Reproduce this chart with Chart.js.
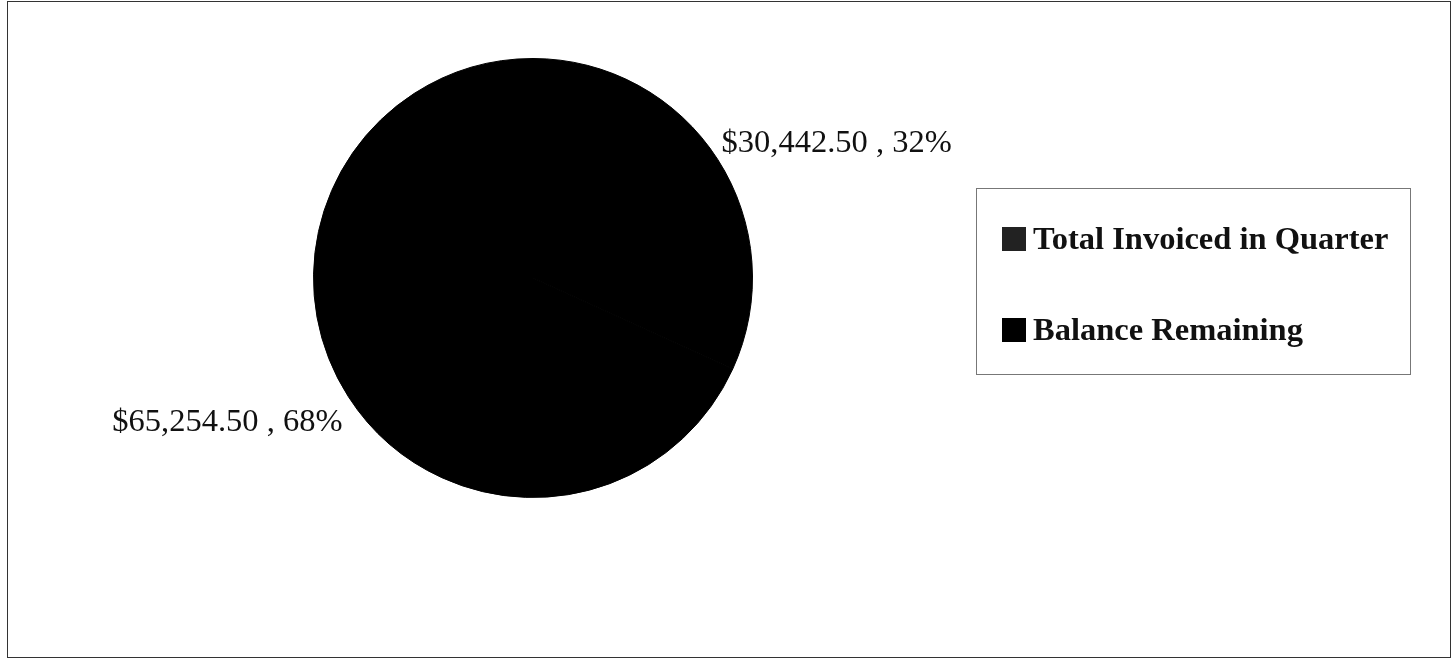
<!DOCTYPE html>
<html lang="en">
<head>
    <meta charset="UTF-8">
    <title>Invoiced vs Balance</title>
    <script src="https://cdn.jsdelivr.net/npm/chart.js"></script>
    <style>
        body { margin: 0; background: #fff; }
        #wrap { position: relative; width: 1452px; height: 660px; }
        #frame { position: absolute; left: 7px; top: 1px; width: 1442px; height: 655px; border: 1px solid #333; }
        #legend {
            position: absolute; left: 976px; top: 188px; width: 435px; height: 187px;
            border: 1px solid #777; box-sizing: border-box;
            font-family: "Liberation Serif", serif; font-weight: bold; font-size: 32.5px; color: #111;
        }
        .item { position: absolute; left: 25px; display: flex; align-items: center; white-space: nowrap; }
        .box { width: 24px; height: 24px; margin-right: 7px; }
    </style>
</head>
<body>
    <div id="wrap">
        <div id="frame"></div>
        <canvas id="pie" width="1452" height="660" style="position:absolute;left:0;top:0"></canvas>
        <div id="legend"></div>
    </div>

    <script>
        // values
        const categories = ['Total Invoiced in Quarter', 'Balance Remaining'];
        const amounts = [30442.50, 65254.50];
        const valueLabels = ['$30,442.50', '$65,254.50'];
        const percentLabels = ['32%', '68%'];
        const sliceColors = ['#000000', '#000000'];

        // legend as html
        const legend = document.getElementById('legend');
        const rowTops = [31, 122];
        categories.forEach(function(name, i) {
            legend.insertAdjacentHTML('beforeend',
                `<div class="item" style="top:${rowTops[i]}px"><span class="box" style="background:${i == 0 ? '#222' : '#000'}"></span>${name}</div>`);
        });

        // outside labels next to each slice
        const outsideLabels = {
            id: 'outsideLabels',
            afterDatasetsDraw(chart) {
                const ctx = chart.ctx;
                const arcs = chart.getDatasetMeta(0).data;
                ctx.save();
                ctx.font = '32.5px "Liberation Serif", serif';
                ctx.fillStyle = '#111';
                arcs.forEach(function(arc, i) {
                    const mid = (arc.startAngle + arc.endAngle) / 2;
                    const r = arc.outerRadius + 7;
                    const x = arc.x + Math.cos(mid) * r;
                    const y = arc.y + Math.sin(mid) * r;
                    ctx.textAlign = Math.cos(mid) >= 0 ? 'left' : 'right';
                    ctx.textBaseline = Math.sin(mid) < 0 ? 'bottom' : 'top';
                    const dy = Math.sin(mid) < 0 ? 4 : 6;
                    ctx.fillText(valueLabels[i] + ' , ' + percentLabels[i], x - (Math.cos(mid) >= 0 ? 2 : 0), y + dy);
                });
                ctx.restore();
            }
        };

        new Chart(document.getElementById('pie').getContext('2d'), {
            type: 'pie',
            data: {
                labels: categories,
                datasets: [{
                    data: amounts,
                    backgroundColor: sliceColors,
                    borderColor: '#000',
                    borderWidth: 1
                }]
            },
            options: {
                responsive: false,
                animation: false,
                layout: { padding: { left: 313, right: 699, top: 58, bottom: 162 } },
                plugins: {
                    legend: { display: false },
                    tooltip: { enabled: false }
                }
            },
            plugins: [outsideLabels]
        });
    </script>
</body>
</html>
